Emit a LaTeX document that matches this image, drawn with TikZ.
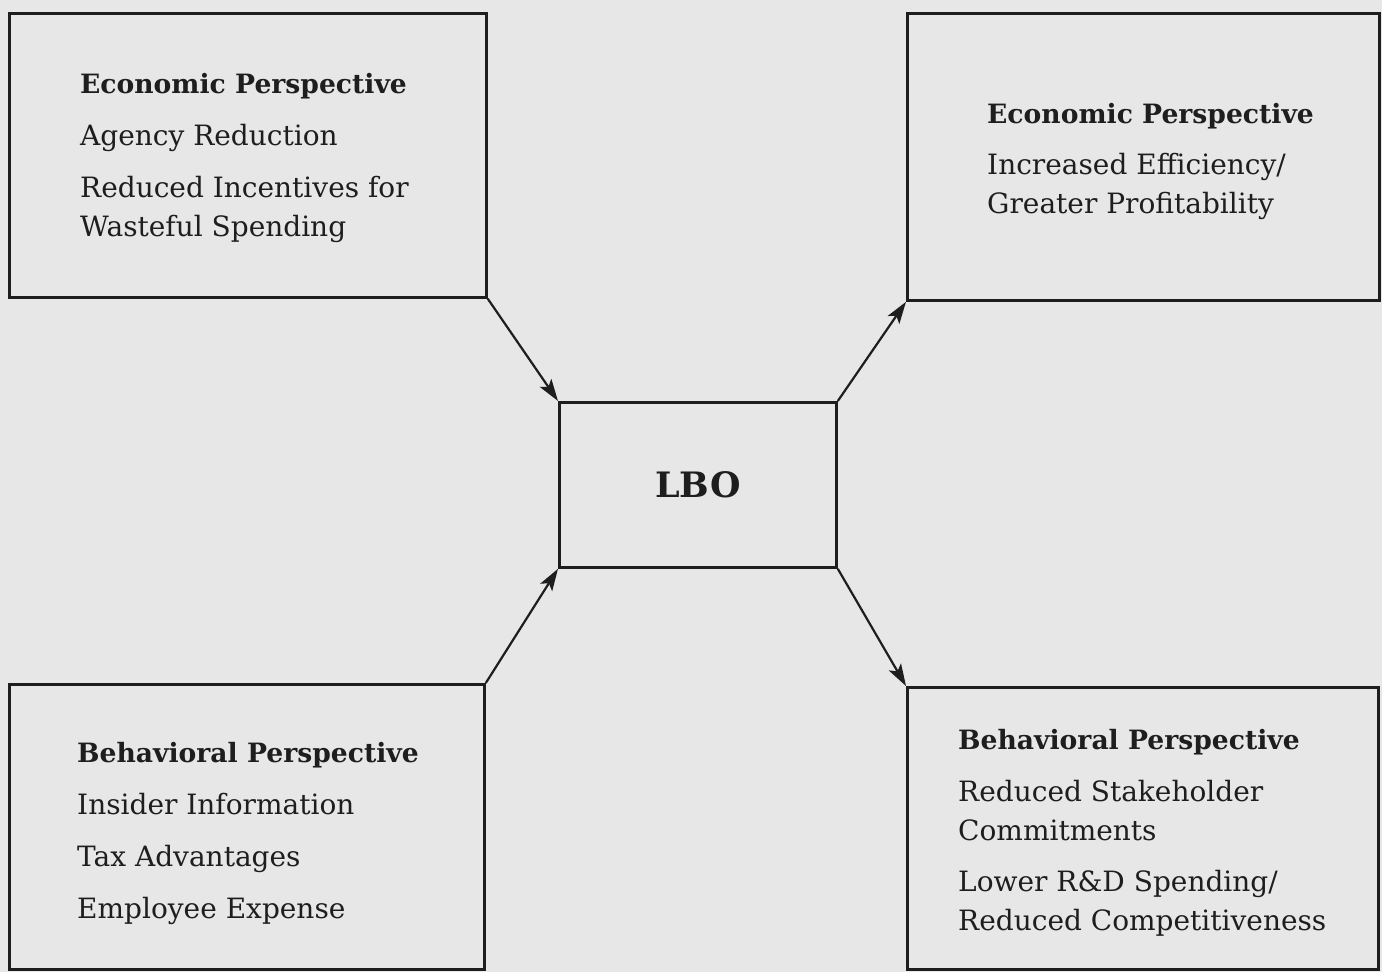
\documentclass[tikz,border=0pt]{standalone}
\usepackage{fontspec}
\setmainfont{DejaVu Serif}
\usepackage{tikz}
\usetikzlibrary{arrows.meta}

\definecolor{paper}{RGB}{231,231,231}
\definecolor{ink}{RGB}{30,30,30}
\newcommand{\perspective}[1]{{\bfseries\fontsize{26.6}{39}\selectfont #1}}

\begin{document}
\begin{tikzpicture}[x=1pt,y=-1pt,>={Stealth[length=22pt,width=14pt,inset=5pt]},
  box/.style={rectangle,draw=ink,line width=2.8pt,inner sep=0pt,anchor=north west},
  list/.style={anchor=base west,align=left,inner sep=0pt,text=ink,
    font=\fontsize{28}{39}\selectfont}]

  \fill[paper] (0,0) rectangle (1382,972);
  \useasboundingbox (0,0) rectangle (1382,972);

  % the four perspective boxes and the LBO box
  \node[box,minimum width=477pt,minimum height=284pt] (econL) at (8,12) {};
  \node[box,minimum width=472pt,minimum height=287pt] (econR) at (906,12) {};
  \node[box,minimum width=475pt,minimum height=285pt] (behavL) at (8,683) {};
  \node[box,minimum width=471pt,minimum height=282pt] (behavR) at (906,686) {};
  \node[box,minimum width=277pt,minimum height=165pt] (lbo) at (558,401) {};
  \node[text=ink,font=\bfseries\fontsize{35}{40}\selectfont] (lboText) at (lbo.center) {LBO};

  % box contents (placed by the baseline of their last line)
  \node[list] (econLText) at (80,236)
    {\perspective{Economic Perspective}\\[13pt]
     Agency Reduction\\[13pt]
     Reduced Incentives for\\
     Wasteful Spending};
  \node[list] (econRText) at (987,213)
    {\perspective{Economic Perspective}\\[12pt]
     Increased Efficiency/\\
     Greater Profitability};
  \node[list] (behavLText) at (77,918)
    {\perspective{Behavioral Perspective}\\[13pt]
     Insider Information\\[13pt]
     Tax Advantages\\[13pt]
     Employee Expense};
  \node[list] (behavRText) at (958,930)
    {\perspective{Behavioral Perspective}\\[13pt]
     Reduced Stakeholder\\
     Commitments\\[12pt]
     Lower R\&D Spending/\\
     Reduced Competitiveness};

  \path[->,ink,line width=2.2pt]
    (econL.south east) edge (lbo.north west)
    (behavL.north east) edge (lbo.south west)
    (lbo.north east) edge (econR.south west)
    (lbo.south east) edge (behavR.north west);

\end{tikzpicture}
\end{document}
